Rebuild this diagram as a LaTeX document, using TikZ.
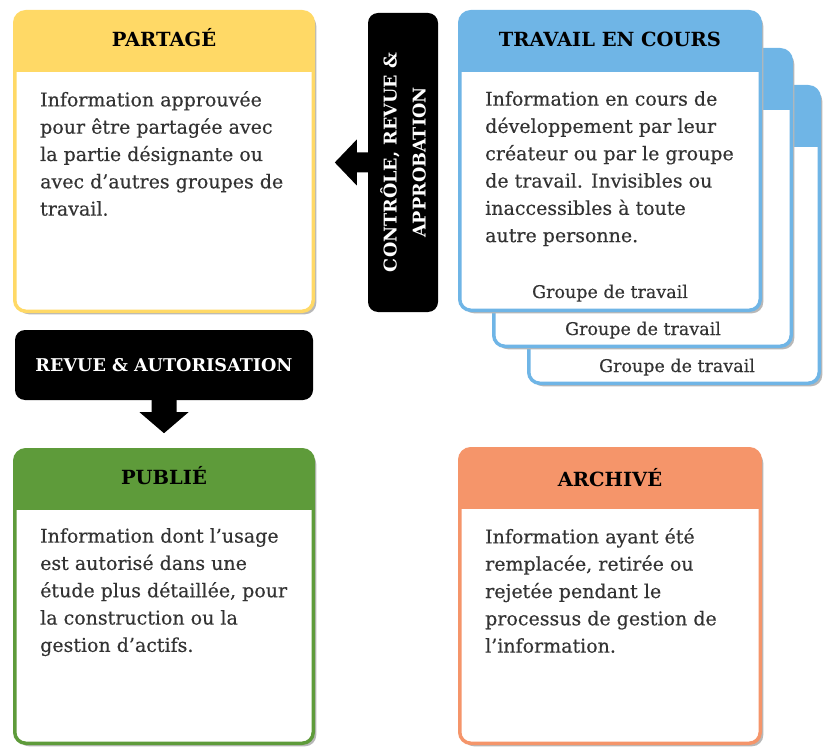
\documentclass[tikz,border=0pt]{standalone}
\usepackage{fontspec}
\setmainfont{DejaVu Serif}
\newfontface\corpsface{DejaVu Serif}[FakeBold=0.35]
\usetikzlibrary{calc,shadows}

\definecolor{jaune}{HTML}{FFD966}
\definecolor{bleu}{HTML}{6FB5E6}
\definecolor{vert}{HTML}{5E9B3A}
\definecolor{orange}{HTML}{F5956A}
\definecolor{texte}{HTML}{333333}

\tikzset{
  etat/.style={draw=#1, fill=white, line width=3.5pt, rounded corners=11pt,
    inner sep=0pt, anchor=center,
    drop shadow={shadow xshift=3pt, shadow yshift=-3pt, fill=black!28, opacity=1},
    path picture={\fill[#1, sharp corners] (path picture bounding box.north west) rectangle
      ([yshift=-60pt]path picture bounding box.north east);}},
  titre/.style={anchor=base, inner sep=0pt, font=\bfseries\fontsize{19.5}{21}\selectfont, text=black},
  corps/.style={anchor=north west, inner sep=0pt, align=left, text=texte,
    font=\corpsface\fontsize{19}{27.3}\selectfont},
  groupe/.style={anchor=base, inner sep=0pt, text=texte, font=\corpsface\fontsize{17.5}{20}\selectfont},
  etiquette/.style={fill=black, rounded corners=10pt, inner sep=0pt, text=white,
    align=center, font=\bfseries\fontsize{17.6}{29}\selectfont},
}

\begin{document}
\begin{tikzpicture}[x=1pt,y=1pt]
\useasboundingbox (0,0) rectangle (824,-751);

% --- work in progress: three stacked cards, back to front
\node[etat=bleu, minimum width=290.5pt, minimum height=296.5pt] (travailC) at (674,-235) {};
\node[groupe] (groupeC) at (677,-372) {Groupe de travail};
\node[etat=bleu, minimum width=297.5pt, minimum height=296.5pt] (travailB) at (642.5,-198) {};
\node[groupe] (groupeB) at (643,-335) {Groupe de travail};
\node[etat=bleu, minimum width=300.5pt, minimum height=298.5pt] (travailA) at (610,-161) {};
\node[groupe] (groupeA) at (610,-298) {Groupe de travail};
\node[titre] (travailT) at (610,-47) {TRAVAIL EN COURS};
\node[corps] (travailX) at (485,-91) {Information en cours de\\développement par leur\\créateur ou par le groupe\\de travail. Invisibles ou\\inaccessibles à toute\\autre personne.};

% --- shared
\node[etat=jaune, minimum width=298.5pt, minimum height=299.5pt] (partage) at (164,-161.5) {};
\node[titre] (partageT) at (164,-47) {PARTAGÉ};
\node[corps] (partageX) at (40,-91) {Information approuvée\\pour être partagée avec\\la partie désignante ou\\avec d’autres groupes de\\travail.};

% --- published
\node[etat=vert, minimum width=298.5pt, minimum height=293.5pt] (publie) at (164,-596.5) {};
\node[titre] (publieT) at (164,-484) {PUBLIÉ};
\node[corps] (publieX) at (40,-528) {Information dont l’usage\\est autorisé dans une\\étude plus détaillée, pour\\la construction ou la\\gestion d’actifs.};

% --- archived
\node[etat=orange, minimum width=300.5pt, minimum height=294.5pt] (archive) at (610,-596) {};
\node[titre] (archiveT) at (610,-486) {ARCHIVÉ};
\node[corps] (archiveX) at (485,-528) {Information ayant été\\remplacée, retirée ou\\rejetée pendant le\\processus de gestion de\\l’information.};

% --- transitions
\node[etiquette, rotate=90, minimum width=299pt, minimum height=70pt] (controle) at (403,-162.5)
  {CONTRÔLE, REVUE \&\\APPROBATION};
\fill ($(controle.north)+(1,10)$) -- ++(-12,0) -- ++(0,13) -- ++(-22,-23)
  -- ++(22,-23) -- ++(0,13) -- ++(12,0) -- cycle;

\node[etiquette, minimum width=298pt, minimum height=70pt] (revue) at (164,-365)
  {REVUE \& AUTORISATION};
\fill ($(revue.south)+(-12.5,1)$) -- ++(0,-13) -- ++(-12,0) -- ++(24.5,-21)
  -- ++(24.5,21) -- ++(-12,0) -- ++(0,13) -- cycle;
\end{tikzpicture}
\end{document}
